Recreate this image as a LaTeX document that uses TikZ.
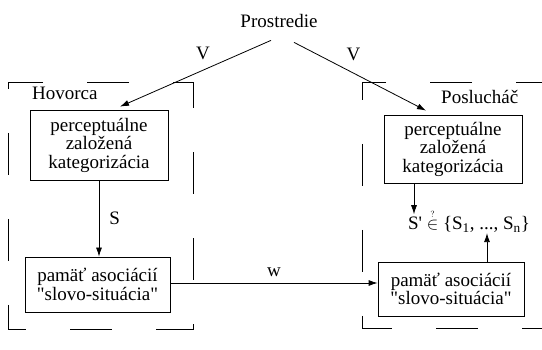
\documentclass[tikz,border=0pt]{standalone}
\usepackage{fontspec}
\setmainfont{Liberation Serif}
\usetikzlibrary{arrows.meta}

\tikzset{
  box/.style={draw, line width=0.8pt, inner sep=2pt, align=center, font=\fontsize{19}{18.5}\selectfont},
  lbl/.style={inner sep=0pt, font=\fontsize{19}{19}\selectfont},
  arr/.style={line width=0.8pt, -{Latex[length=9pt,width=6pt]}},
  frame/.style={line width=0.8pt, dash pattern=on 42pt off 44pt},
}

\begin{document}
\begin{tikzpicture}[x=1pt,y=-1pt]
\useasboundingbox (0,0) rectangle (542,350);
% Environment on top
\node[lbl] (env) at (279,21.5) {Prostredie};

% Dashed frames of speaker and hearer
\draw[frame, dash phase=22pt] (193,82) -- (8,82) -- (8,329) -- (193,329) -- cycle;
\draw[frame, dash phase=16pt] (542,82) -- (362,82) -- (362,328) -- (542,328);
\node[lbl, anchor=west] (spk) at (32,93) {Hovorca};
\node[lbl, anchor=west] (lst) at (441,97) {Poslucháč};

% Speaker side
\node[box, minimum width=138pt, minimum height=70pt] (pl) at (99,145) {perceptuálne\\založená\\kategorizácia};
\node[box, minimum width=145pt, minimum height=55pt] (ml) at (97.5,284.5) {pamäť asociácií\\\textquotedbl slovo-situácia\textquotedbl};

% Hearer side
\node[box, minimum width=138pt, minimum height=68pt] (pr) at (453,149) {perceptuálne\\založená\\kategorizácia};
\node[box, minimum width=146pt, minimum height=54pt] (mr) at (451,289) {pamäť asociácií\\\textquotedbl slovo-situácia\textquotedbl};
\node[lbl, anchor=base] (sel) at (469,230) {S\textquotesingle\ $\stackrel{\raisebox{1pt}{$\scriptscriptstyle ?$}}{\in}$ \{S\textsubscript{1}, ..., S\textsubscript{n}\}};

% Connectors
\draw[arr] ([xshift=-8pt,yshift=-12pt]env.south) -- node[lbl, pos=0.45, above=10pt] (vl) {V} ([xshift=21pt,yshift=3pt]pl.north);
\draw[arr] ([xshift=15pt,yshift=-14pt]env.south) -- node[lbl, pos=0.45, above=12pt] (vr) {V} ([xshift=-27pt,yshift=4pt]pr.north);
\draw[arr] (pl.south) -- node[lbl, right=10pt] (s) {S} (pl.south |- ml.north);
\draw[arr] ([yshift=1.5pt]ml.east) -- node[lbl, above=6pt] (w) {w} ([yshift=1.5pt]ml.east -| mr.west);
\draw[arr] ([xshift=-39pt]pr.south) -- ([xshift=-39pt,yshift=-4pt]pr.south |- sel.north);
\draw[arr] ([xshift=36pt]mr.north) -- ([xshift=36pt]mr.north |- sel.south);
\end{tikzpicture}
\end{document}
